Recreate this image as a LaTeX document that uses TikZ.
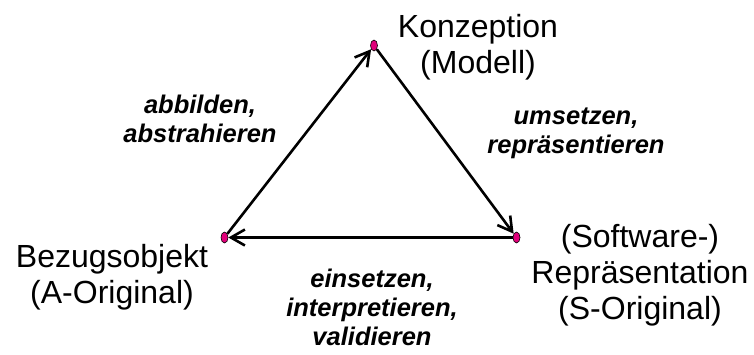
\documentclass[tikz,border=0pt]{standalone}
\usepackage{fontspec}
\setmainfont{Liberation Sans}
\usepackage{xcolor}
\usetikzlibrary{arrows.meta,positioning,shapes.geometric}
\definecolor{dotfill}{HTML}{E0007A}
\tikzset{
  dot/.style   = {ellipse, draw=black, line width=0.6pt, fill=dotfill,
                  minimum width=7pt, minimum height=11pt, inner sep=0pt},
  ar/.style    = {-{Straight Barb[length=14pt,width=16pt]}, line width=2.6pt},
  term/.style  = {align=center, inner sep=0pt, anchor=base,
                  font=\fontsize{32}{36}\selectfont},
  lbl/.style   = {align=center, inner sep=0pt, anchor=base,
                  font=\fontsize{25.5}{29}\selectfont\bfseries\itshape},
}
\begin{document}
\begin{tikzpicture}[x=1pt,y=-1pt]
  \useasboundingbox (0,0) rectangle (754,354);
  % corner points
  \node[dot] (dK) at (374,45.5) {};
  \node[dot] (dA) at (224.5,237.5) {};
  \node[dot] (dS) at (516.5,237.5) {};
  % terms (anchored at the baseline of the last line)
  \node[term] (tK) at (478,73) {Konzeption\\(Modell)};
  \node[term] (tA) at (112,303) {Bezugsobjekt\\(A-Original)};
  \node[term] (tS) at (640,319) {(Software-)\\Repräsentation\\(S-Original)};
  % arrows
  \draw[ar] (dA) -- (dK);
  \draw[ar] (dK) -- (dS);
  \draw[ar] (dS) -- (dA);
  % labels
  \node[lbl] (lAK) at (200,142) {abbilden,\\abstrahieren};
  \node[lbl] (lKS) at (576,153) {umsetzen,\\repräsentieren};
  \node[lbl] (lSA) at (372,345) {einsetzen,\\interpretieren,\\validieren};
\end{tikzpicture}
\end{document}
